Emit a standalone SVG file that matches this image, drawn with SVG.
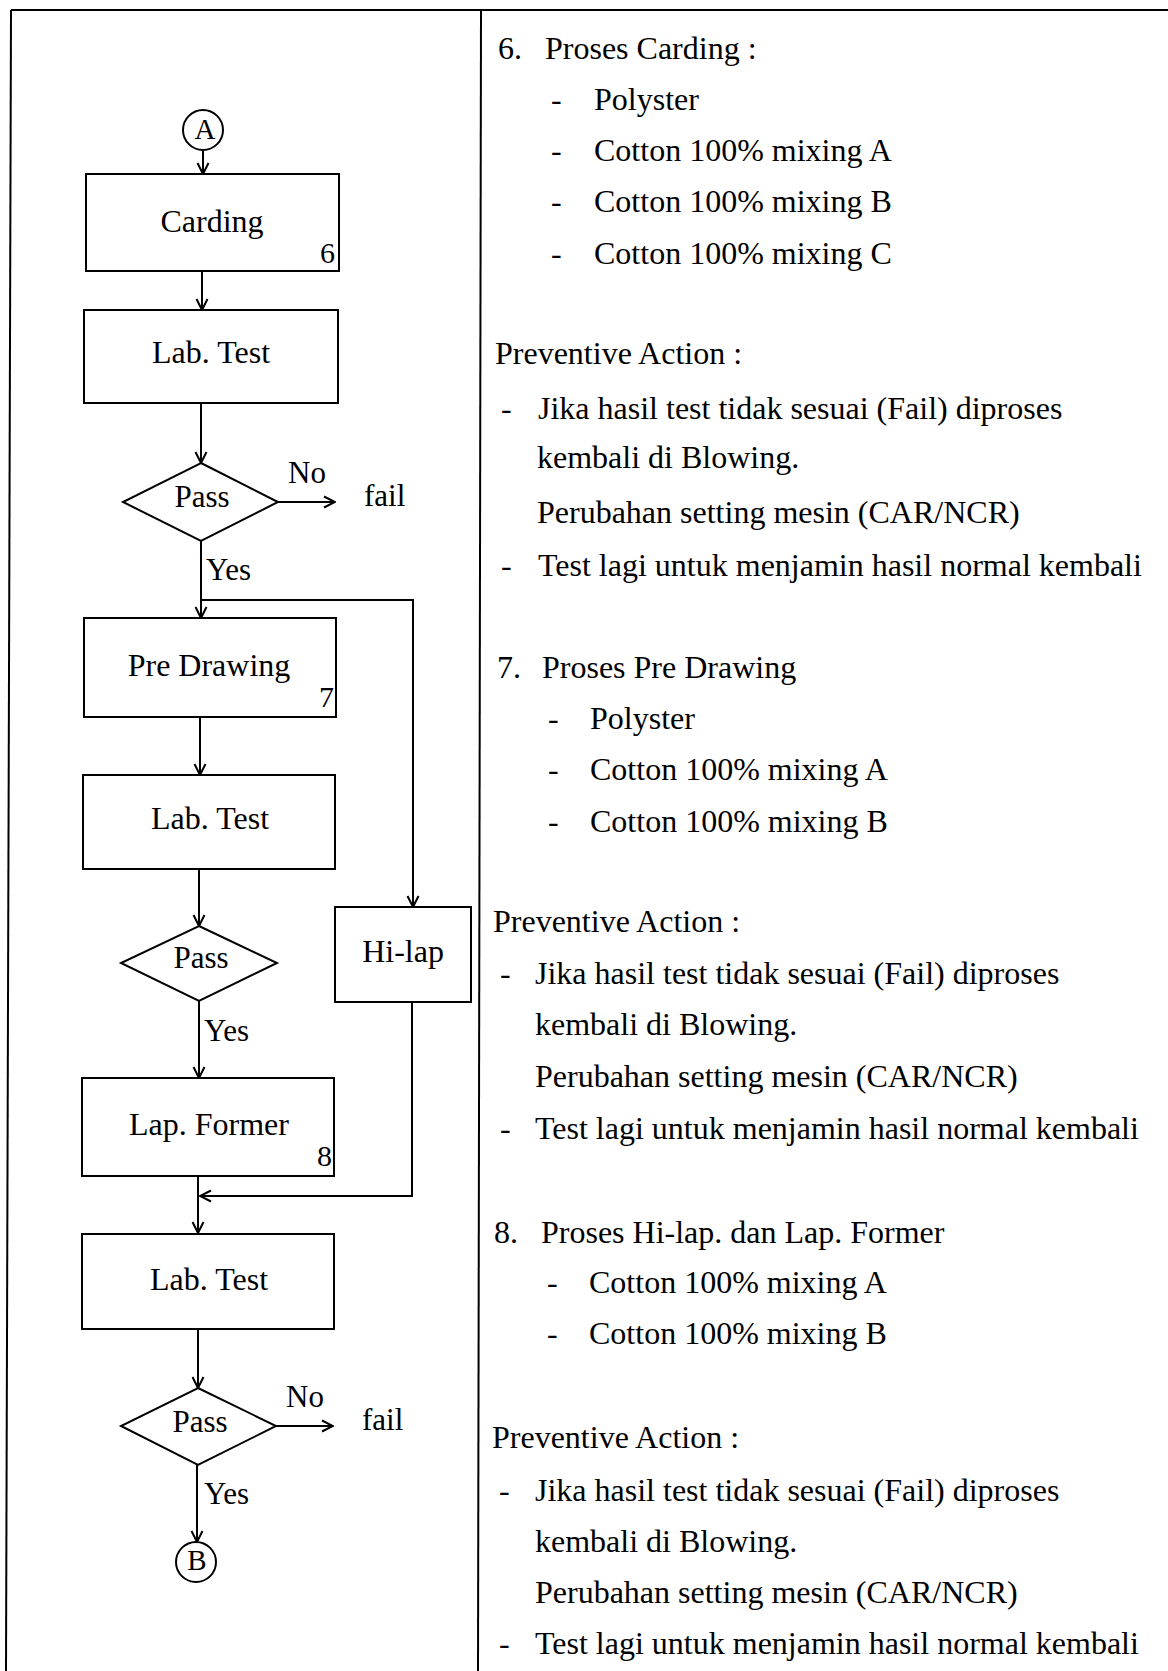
<svg xmlns="http://www.w3.org/2000/svg" width="1168" height="1671" viewBox="0 0 1168 1671">
<style>
  .bg { fill: #ffffff; }
  .frame { stroke: #000; stroke-width: 2; fill: none; }
  .box { fill: #fff; stroke: #000; stroke-width: 2; }
  .con { stroke: #000; stroke-width: 2; fill: none; }
  .t { font-family: "Liberation Serif", "Times New Roman", serif; font-size: 32px; fill: #000; }
  .s { font-family: "Liberation Serif", "Times New Roman", serif; font-size: 31px; fill: #000; }
  .n { font-family: "Liberation Serif", "Times New Roman", serif; font-size: 30px; fill: #000; text-anchor: end; }
  .c { text-anchor: middle; }
</style>
<defs>
  <marker id="arr" viewBox="0 0 14 14" markerWidth="14" markerHeight="14" refX="13" refY="7" orient="auto" markerUnits="userSpaceOnUse">
    <path d="M2,1.5 L13,7 L2,12.5" fill="none" stroke="#000" stroke-width="2"/>
  </marker>
</defs>
<rect class="bg" x="0" y="0" width="1168" height="1671"/>

<g id="frame">
  <line class="frame" x1="11" y1="10" x2="1168" y2="10"/>
  <line class="frame" x1="11" y1="10" x2="6" y2="1671"/>
  <line class="frame" x1="481" y1="10" x2="478" y2="1671"/>
</g>

<g id="connectors">
  <line class="con" x1="203" y1="151" x2="203" y2="174" marker-end="url(#arr)"/>
  <line class="con" x1="202" y1="271" x2="202" y2="310" marker-end="url(#arr)"/>
  <line class="con" x1="201" y1="403" x2="201" y2="463" marker-end="url(#arr)"/>
  <line class="con" x1="278" y1="502" x2="335" y2="502" marker-end="url(#arr)"/>
  <line class="con" x1="201" y1="541" x2="201" y2="618" marker-end="url(#arr)"/>
  <polyline class="con" points="201,600 413,600 413,907" marker-end="url(#arr)"/>
  <line class="con" x1="200" y1="717" x2="200" y2="775" marker-end="url(#arr)"/>
  <line class="con" x1="199" y1="869" x2="199" y2="926" marker-end="url(#arr)"/>
  <line class="con" x1="199" y1="1001" x2="199" y2="1078" marker-end="url(#arr)"/>
  <polyline class="con" points="412,1002 412,1196 200,1196" marker-end="url(#arr)"/>
  <line class="con" x1="198" y1="1176" x2="198" y2="1233" marker-end="url(#arr)"/>
  <line class="con" x1="198" y1="1329" x2="198" y2="1388" marker-end="url(#arr)"/>
  <line class="con" x1="276" y1="1426" x2="333" y2="1426" marker-end="url(#arr)"/>
  <line class="con" x1="197" y1="1465" x2="197" y2="1542" marker-end="url(#arr)"/>
</g>

<g id="node-A">
  <circle class="box" cx="203" cy="130" r="20"/>
  <text class="t c" x="205" y="139" style="font-size:29px">A</text>
</g>

<g id="node-carding">
  <rect class="box" x="86" y="174" width="253" height="97"/>
  <text class="t c" x="212" y="232">Carding</text>
  <text class="n" x="335" y="263">6</text>
</g>

<g id="node-labtest1">
  <rect class="box" x="84" y="310" width="254" height="93"/>
  <text class="t c" x="211" y="363">Lab. Test</text>
</g>

<g id="node-pass1">
  <polygon class="box" points="201,463 278,502 201,541 123,502"/>
  <text class="s c" x="202" y="507">Pass</text>
  <text class="s" x="288" y="483">No</text>
  <text class="s" x="364" y="506">fail</text>
  <text class="s" x="206" y="580">Yes</text>
</g>

<g id="node-predrawing">
  <rect class="box" x="84" y="618" width="252" height="99"/>
  <text class="t c" x="209" y="676">Pre Drawing</text>
  <text class="n" x="334" y="707">7</text>
</g>

<g id="node-labtest2">
  <rect class="box" x="83" y="775" width="252" height="94"/>
  <text class="t c" x="210" y="829">Lab. Test</text>
</g>

<g id="node-pass2">
  <polygon class="box" points="199,926 277,963 199,1001 121,963"/>
  <text class="s c" x="201" y="968">Pass</text>
  <text class="s" x="204" y="1041">Yes</text>
</g>

<g id="node-hilap">
  <rect class="box" x="335" y="907" width="136" height="95"/>
  <text class="t c" x="403" y="962">Hi-lap</text>
</g>

<g id="node-lapformer">
  <rect class="box" x="82" y="1078" width="252" height="98"/>
  <text class="t c" x="209" y="1135">Lap. Former</text>
  <text class="n" x="332" y="1166">8</text>
</g>

<g id="node-labtest3">
  <rect class="box" x="82" y="1234" width="252" height="95"/>
  <text class="t c" x="209" y="1290">Lab. Test</text>
</g>

<g id="node-pass3">
  <polygon class="box" points="198,1388 276,1426 198,1465 121,1426"/>
  <text class="s c" x="200" y="1432">Pass</text>
  <text class="s" x="286" y="1407">No</text>
  <text class="s" x="362" y="1430">fail</text>
  <text class="s" x="204" y="1504">Yes</text>
</g>

<g id="node-B">
  <circle class="box" cx="196" cy="1562" r="20"/>
  <text class="t c" x="197" y="1570" style="font-size:29px">B</text>
</g>

<g id="notes">
  <text class="t" x="498" y="59">6.</text>
  <text class="t" x="545" y="59">Proses Carding :</text>
  <text class="t" x="551" y="110">-</text><text class="t" x="594" y="110">Polyster</text>
  <text class="t" x="551" y="161">-</text><text class="t" x="594" y="161">Cotton 100% mixing A</text>
  <text class="t" x="551" y="212">-</text><text class="t" x="594" y="212">Cotton 100% mixing B</text>
  <text class="t" x="551" y="264">-</text><text class="t" x="594" y="264">Cotton 100% mixing C</text>
  <text class="t" x="495" y="364">Preventive Action :</text>
  <text class="t" x="501" y="419">-</text><text class="t" x="538" y="419">Jika hasil test tidak sesuai (Fail) diproses</text>
  <text class="t" x="537" y="468">kembali di Blowing.</text>
  <text class="t" x="537" y="523">Perubahan setting mesin (CAR/NCR)</text>
  <text class="t" x="501" y="576">-</text><text class="t" x="538" y="576">Test lagi untuk menjamin hasil normal kembali</text>

  <text class="t" x="497" y="678">7.</text>
  <text class="t" x="542" y="678">Proses Pre Drawing</text>
  <text class="t" x="548" y="729">-</text><text class="t" x="590" y="729">Polyster</text>
  <text class="t" x="548" y="780">-</text><text class="t" x="590" y="780">Cotton 100% mixing A</text>
  <text class="t" x="548" y="832">-</text><text class="t" x="590" y="832">Cotton 100% mixing B</text>
  <text class="t" x="493" y="932">Preventive Action :</text>
  <text class="t" x="500" y="984">-</text><text class="t" x="535" y="984">Jika hasil test tidak sesuai (Fail) diproses</text>
  <text class="t" x="535" y="1035">kembali di Blowing.</text>
  <text class="t" x="535" y="1087">Perubahan setting mesin (CAR/NCR)</text>
  <text class="t" x="500" y="1139">-</text><text class="t" x="535" y="1139">Test lagi untuk menjamin hasil normal kembali</text>

  <text class="t" x="494" y="1243">8.</text>
  <text class="t" x="541" y="1243">Proses Hi-lap. dan Lap. Former</text>
  <text class="t" x="547" y="1293">-</text><text class="t" x="589" y="1293">Cotton 100% mixing A</text>
  <text class="t" x="547" y="1344">-</text><text class="t" x="589" y="1344">Cotton 100% mixing B</text>
  <text class="t" x="492" y="1448">Preventive Action :</text>
  <text class="t" x="499" y="1501">-</text><text class="t" x="535" y="1501">Jika hasil test tidak sesuai (Fail) diproses</text>
  <text class="t" x="535" y="1552">kembali di Blowing.</text>
  <text class="t" x="535" y="1603">Perubahan setting mesin (CAR/NCR)</text>
  <text class="t" x="499" y="1654">-</text><text class="t" x="535" y="1654">Test lagi untuk menjamin hasil normal kembali</text>
</g>
</svg>
